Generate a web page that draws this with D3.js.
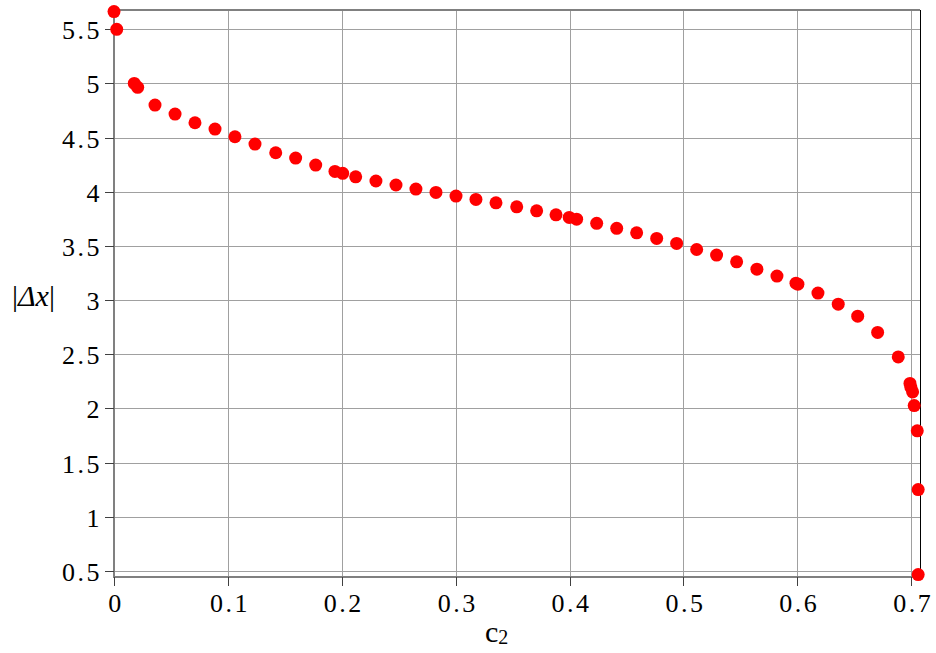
<!DOCTYPE html>
<meta charset="utf-8">
<style>
    body { margin: 0; background: #fff; }
    text { font-family: "Liberation Serif", "Times New Roman", serif; fill: #000; }
    .tick-label { font-size: 26px; letter-spacing: 2.5px; }
</style>
<svg width="936" height="653"></svg>
<script src="https://d3js.org/d3.v7.min.js"></script>
<script>
    // c2 values (x) and |dx| values (y)
    var c2 = [0, 0.0024, 0.0178, 0.0208, 0.036, 0.0536, 0.0711, 0.0887, 0.1062, 0.1238,
        0.142, 0.1595, 0.1771, 0.194, 0.2008, 0.2122, 0.23, 0.2476, 0.2651, 0.2827,
        0.3003, 0.3178, 0.3354, 0.3536, 0.3711, 0.3881, 0.3997, 0.4062, 0.4238, 0.4414,
        0.4589, 0.4765, 0.494, 0.5116, 0.5291, 0.5467, 0.5645, 0.5821, 0.5988, 0.6005,
        0.6181, 0.6359, 0.653, 0.6705, 0.6886, 0.6989, 0.6997, 0.7012, 0.7026, 0.7053,
        0.7061, 0.7061];
    var dx = [5.663, 5.5, 5.0, 4.964, 4.80, 4.717, 4.637, 4.579, 4.508, 4.44,
        4.36, 4.311, 4.246, 4.188, 4.17, 4.138, 4.099, 4.062, 4.025, 3.994,
        3.96, 3.929, 3.898, 3.861, 3.824, 3.787, 3.763, 3.747, 3.708, 3.662,
        3.621, 3.569, 3.523, 3.467, 3.415, 3.353, 3.285, 3.221, 3.156, 3.147,
        3.064, 2.962, 2.851, 2.701, 2.475, 2.23, 2.195, 2.152, 2.026, 1.793,
        1.25, 0.465];
    var xTicks = [0, 0.1, 0.2, 0.3, 0.4, 0.5, 0.6, 0.7];
    var yTicks = [0.5, 1, 1.5, 2, 2.5, 3, 3.5, 4, 4.5, 5, 5.5];

    var svg = d3.select("svg");
    var pLeft = 114, pRight = 920, pTop = 10, pBottom = 577;

    var x = d3.scaleLinear().domain([0, 0.7077]).range([pLeft, pRight]);
    var y = d3.scaleLinear().domain([0.443, 5.678]).range([pBottom, pTop]);

    // grid
    svg.append("g").selectAll("line").data(xTicks.slice(1)).enter().append("line")
        .attr("x1", function(d) { return Math.round(x(d)) + 0.5; })
        .attr("x2", function(d) { return Math.round(x(d)) + 0.5; })
        .attr("y1", pTop).attr("y2", pBottom)
        .attr("stroke", "#a0a0a0").attr("stroke-width", 1);
    svg.append("g").selectAll("line").data(yTicks).enter().append("line")
        .attr("y1", function(d) { return Math.round(y(d)) + 0.5; })
        .attr("y2", function(d) { return Math.round(y(d)) + 0.5; })
        .attr("x1", pLeft).attr("x2", pRight)
        .attr("stroke", "#a0a0a0").attr("stroke-width", 1);

    // frame
    svg.append("line").attr("x1", pLeft).attr("x2", pRight).attr("y1", pTop).attr("y2", pTop)
        .attr("stroke", "#808080").attr("stroke-width", 2);
    svg.append("line").attr("x1", pRight + 0.5).attr("x2", pRight + 0.5).attr("y1", pTop).attr("y2", pBottom)
        .attr("stroke", "#000").attr("stroke-width", 1);
    svg.append("line").attr("x1", pLeft).attr("x2", pLeft).attr("y1", pTop - 1).attr("y2", pBottom + 1)
        .attr("stroke", "#808080").attr("stroke-width", 2);
    svg.append("line").attr("x1", pLeft - 1).attr("x2", pRight + 1).attr("y1", pBottom).attr("y2", pBottom)
        .attr("stroke", "#808080").attr("stroke-width", 2);

    // y ticks + labels
    var yt = svg.append("g").selectAll("g").data(yTicks).enter().append("g");
    yt.append("line")
        .attr("x1", pLeft - 9).attr("x2", pLeft)
        .attr("y1", function(d) { return Math.round(y(d)) + 0.5; })
        .attr("y2", function(d) { return Math.round(y(d)) + 0.5; })
        .attr("stroke", "#404040").attr("stroke-width", 1);
    yt.append("text").attr("class", "tick-label")
        .attr("x", 102).attr("y", function(d) { return y(d) + 10; })
        .attr("text-anchor", "end")
        .text(function(d) { return d; });

    // x ticks + labels
    var xt = svg.append("g").selectAll("g").data(xTicks).enter().append("g");
    xt.append("line")
        .attr("x1", function(d) { return Math.round(x(d)) + 0.5; })
        .attr("x2", function(d) { return Math.round(x(d)) + 0.5; })
        .attr("y1", pBottom).attr("y2", pBottom + 9)
        .attr("stroke", "#404040").attr("stroke-width", 1);
    xt.append("text").attr("class", "tick-label")
        .attr("x", function(d) { return x(d) + 2; }).attr("y", 612)
        .attr("text-anchor", "middle")
        .text(function(d) { return d; });

    // axis titles
    var xl = svg.append("text").attr("x", 485).attr("y", 642).style("font-size", "30px");
    xl.append("tspan").text("c");
    xl.append("tspan").attr("dy", 2).style("font-size", "20px").text("2");

    var yl = svg.append("text").attr("x", 12).attr("y", 306).style("font-size", "30px");
    yl.append("tspan").text("|");
    yl.append("tspan").style("font-style", "italic").text("\u0394x");
    yl.append("tspan").text("|");

    // points
    svg.append("g").selectAll("circle").data(c2).enter().append("circle")
        .attr("cx", function(d) { return x(d); })
        .attr("cy", function(d, i) { return y(dx[i]); })
        .attr("r", 6.5)
        .attr("fill", "#ff0000");
</script>
